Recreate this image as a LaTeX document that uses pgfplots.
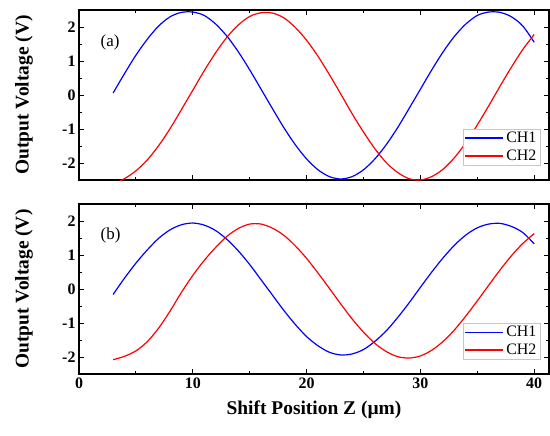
\documentclass[border=0pt]{standalone}
\usepackage{fontspec}
\setmainfont{Liberation Serif}
\usepackage{pgfplots}
\pgfplotsset{compat=1.18}

% panel (a)
\pgfplotstableread{
x ch1 ch2
3 0.06 -2.62
4 0.63 -2.46
5 1.17 -2.23
6 1.64 -1.91
7 2.03 -1.49
8 2.30 -0.99
9 2.43 -0.43
10 2.44 0.14
11 2.34 0.71
12 2.09 1.24
13 1.73 1.70
14 1.27 2.06
15 0.74 2.31
16 0.17 2.42
17 -0.40 2.41
18 -0.96 2.27
19 -1.46 1.99
20 -1.88 1.61
21 -2.20 1.14
22 -2.40 0.60
23 -2.47 0.03
24 -2.40 -0.55
25 -2.20 -1.09
26 -1.88 -1.58
27 -1.46 -1.99
28 -0.96 -2.28
29 -0.40 -2.46
30 0.17 -2.50
31 0.74 -2.40
32 1.27 -2.18
33 1.73 -1.84
34 2.09 -1.40
35 2.34 -0.88
36 2.44 -0.32
37 2.43 0.26
38 2.30 0.82
39 2.03 1.34
40 1.55 1.78
}\tabA

% panel (b)
\pgfplotstableread{
x ch1 ch2
3 -0.16 -2.08
4 0.32 -1.98
5 0.76 -1.82
6 1.15 -1.55
7 1.49 -1.15
8 1.74 -0.65
9 1.89 -0.10
10 1.94 0.40
11 1.88 0.84
12 1.72 1.22
13 1.46 1.55
14 1.12 1.78
15 0.72 1.91
16 0.27 1.91
17 -0.18 1.79
18 -0.63 1.58
19 -1.04 1.27
20 -1.40 0.90
21 -1.67 0.47
22 -1.86 0.02
23 -1.94 -0.44
24 -1.91 -0.88
25 -1.78 -1.27
26 -1.54 -1.60
27 -1.23 -1.84
28 -0.84 -1.99
29 -0.41 -2.03
30 0.05 -1.97
31 0.50 -1.80
32 0.92 -1.54
33 1.29 -1.20
34 1.59 -0.79
35 1.80 -0.35
36 1.91 0.11
37 1.93 0.56
38 1.84 0.98
39 1.66 1.34
40 1.33 1.63
}\tabB

\pgfplotsset{
  panel/.style={
    width=470bp, height=170bp, scale only axis,
    xmin=0, xmax=41.3, ymin=-2.5, ymax=2.5,
    xtick={0,10,20,30,40}, minor x tick num=1,
    ytick={-2,-1,0,1,2}, minor y tick num=1,
    tick align=inside,
    major tick length=5bp, minor tick length=3bp,
    every tick/.style={black, line width=1bp},
    axis line style={line width=1.3bp},
    /pgf/number format/assume math mode=true,
    tick label style={font=\bfseries\fontsize{16}{16}\selectfont},
    ylabel={\bfseries Output Voltage (V)},
    ylabel style={font=\fontsize{19.5}{19.5}\selectfont, at={(axis description cs:-0.117,0.5)}, anchor=center},
    legend style={at={(0.981,0.085)}, anchor=south east, draw=gray!45,
      font=\fontsize{16}{16}\selectfont, row sep=1.5bp, inner sep=1.5bp,
      cells={anchor=west}},
    legend image code/.code={\draw[#1] (0bp,0bp) -- (38bp,0bp);},
    clip=true,
  },
  ch/.style={line width=1.2bp, smooth},
}

\begin{document}
\begin{tikzpicture}
\begin{axis}[panel, name=a, xticklabels={}]
  \addplot[ch, color=blue, forget plot] table[x=x, y=ch1] {\tabA};
  \addplot[ch, color=red, forget plot] table[x=x, y=ch2] {\tabA};
  \addlegendimage{blue, line width=1.6bp}
  \addlegendentry{CH1}
  \addlegendimage{red, line width=1.6bp}
  \addlegendentry{CH2}
  \node[anchor=west, font=\fontsize{17}{17}\selectfont] at (axis cs:1.6,1.55) {(a)};
\end{axis}
\begin{axis}[panel, at={(0,-194bp)},
  xlabel={\bfseries Shift Position Z (µm)},
  xlabel style={font=\fontsize{19.5}{19.5}\selectfont, at={(axis description cs:0.5,-0.212)}, anchor=center}]
  \addplot[ch, color=blue, forget plot] table[x=x, y=ch1] {\tabB};
  \addplot[ch, color=red, forget plot] table[x=x, y=ch2] {\tabB};
  \addlegendimage{blue, line width=1.6bp}
  \addlegendentry{CH1}
  \addlegendimage{red, line width=1.6bp}
  \addlegendentry{CH2}
  \node[anchor=west, font=\fontsize{17}{17}\selectfont] at (axis cs:1.6,1.59) {(b)};
\end{axis}
\pgfresetboundingbox
\path ([xshift=-79bp,yshift=-256bp]a.south west) rectangle ([xshift=471bp,yshift=180bp]a.south west);
\end{tikzpicture}
\end{document}
